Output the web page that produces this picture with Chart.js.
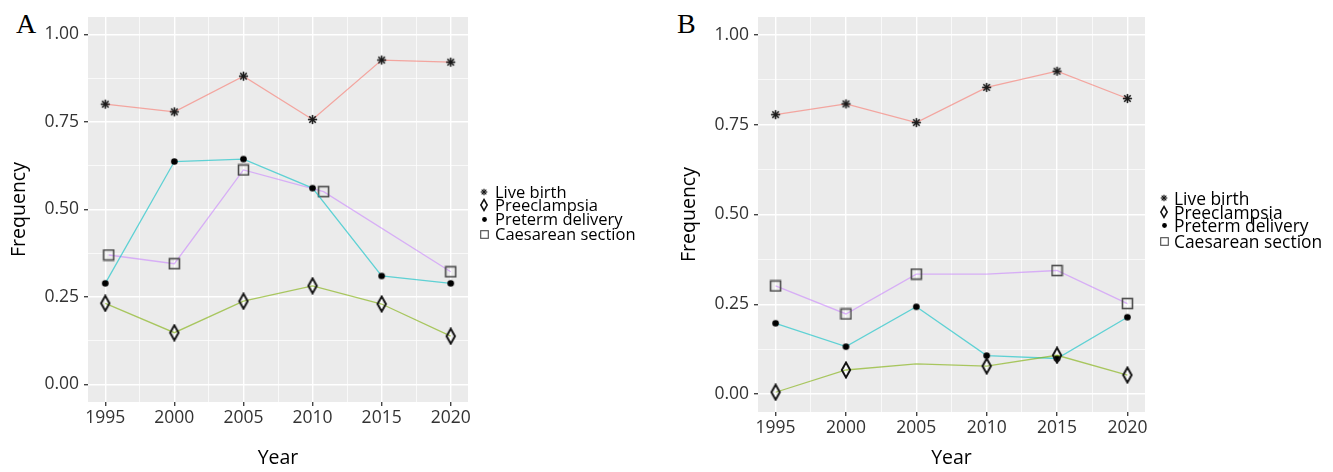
<!DOCTYPE html>
<html>
<head>
<meta charset="utf-8">
<script src="https://cdn.jsdelivr.net/npm/chart.js@4.4.1/dist/chart.umd.min.js"></script>
<style>
  body { margin: 0; background: #fff; width: 1333px; height: 472px; overflow: hidden; position: relative; font-family: "Open Sans", sans-serif; }
  .panel { position: absolute; top: 0; height: 472px; }
  .letter { position: absolute; font-family: "Liberation Serif", "DejaVu Serif", serif; font-size: 28px; color: #000; line-height: 1; }
  .leg-row { position: absolute; height: 16px; line-height: 16px; color: #000; white-space: nowrap; }
  .leg-row canvas { position: absolute; top: 50%; }
</style>
</head>
<body>
<div class="letter" style="left:16px;top:10px">A</div>
<div class="letter" style="left:677px;top:10px">B</div>
<div class="panel" style="left:0;width:494px"><canvas id="chartA"></canvas></div>
<div class="panel" style="left:670px;width:501px"><canvas id="chartB"></canvas></div>
<div id="legendA"></div>
<div id="legendB"></div>
<script>
var years = [1995, 2000, 2005, 2010, 2015, 2020];
var seriesNames = ['Live birth', 'Preeclampsia', 'Preterm delivery', 'Caesarean section'];
var lineColors = ['rgba(248,118,109,0.6)', 'rgba(124,174,0,0.6)', 'rgba(0,191,196,0.6)', 'rgba(199,124,255,0.55)'];

// panel A
var liveBirthA = [0.801, 0.779, 0.881, 0.757, 0.927, 0.921];
var preeclampsiaA = [0.232, 0.148, 0.238, 0.282, 0.230, 0.138];
var pretermA = [0.289, 0.637, 0.644, 0.561, 0.310, 0.289];
var caesareanA = [0.370, 0.345, 0.613, 0.551, null, 0.322];
var caesareanYearsA = [1995.25, 2000, 2005, 2010.8, 2015, 2020]; // points are dodged a bit

// panel B
var liveBirthB = [0.778, 0.808, 0.756, 0.854, 0.899, 0.823];
var preeclampsiaB = [0.005, 0.067, 0.084, 0.078, 0.108, 0.053];
var pretermB = [0.197, 0.132, 0.243, 0.107, 0.099, 0.214];
var caesareanB = [0.301, 0.223, 0.334, 0.334, 0.344, 0.252];
var preeclampsiaMarkB = [1, 1, 0, 1, 1, 1];
var caesareanMarkB = [1, 1, 1, 0, 1, 1];

// marker images (ggplot shapes 8, 5, 16, 0)
function asterisk(r, w) {
  var s = Math.ceil(2 * r + 3), c = document.createElement('canvas');
  c.width = c.height = s;
  var g = c.getContext('2d');
  g.strokeStyle = '#1a1a1a'; g.lineWidth = w;
  for (var k = 0; k < 4; k++) {
    var a = k * Math.PI / 4;
    g.beginPath();
    g.moveTo(s / 2 + r * Math.cos(a), s / 2 + r * Math.sin(a));
    g.lineTo(s / 2 - r * Math.cos(a), s / 2 - r * Math.sin(a));
    g.stroke();
  }
  return c;
}
function diamond(hw, hh, w) {
  var c = document.createElement('canvas');
  c.width = Math.ceil(2 * hw + 3); c.height = Math.ceil(2 * hh + 3);
  var g = c.getContext('2d'), cx = c.width / 2, cy = c.height / 2;
  g.strokeStyle = '#111'; g.lineWidth = w;
  g.beginPath();
  g.moveTo(cx, cy - hh); g.lineTo(cx + hw, cy); g.lineTo(cx, cy + hh); g.lineTo(cx - hw, cy);
  g.closePath(); g.stroke();
  return c;
}
function dot(r) {
  var s = Math.ceil(2 * r + 2), c = document.createElement('canvas');
  c.width = c.height = s;
  var g = c.getContext('2d');
  g.fillStyle = '#000';
  g.beginPath(); g.arc(s / 2, s / 2, r, 0, Math.PI * 2); g.fill();
  return c;
}
function square(h, w) {
  var s = Math.ceil(2 * h + 3), c = document.createElement('canvas');
  c.width = c.height = s;
  var g = c.getContext('2d');
  g.strokeStyle = '#4a4a4a'; g.lineWidth = w;
  g.strokeRect(s / 2 - h, s / 2 - h, 2 * h, 2 * h);
  return c;
}
var markers = [asterisk(4.6, 1.6), diamond(4.2, 7.5, 1.9), dot(3.3), square(5, 1.6)];
var legendMarks = [asterisk(3.3, 1.2), diamond(3.2, 5.5, 1.5), dot(2.4), square(3.8, 1.1)];

var panelBg = {
  id: 'panelBg',
  beforeDraw: function (chart) {
    var a = chart.chartArea, g = chart.ctx;
    g.save();
    g.fillStyle = '#EBEBEB';
    g.fillRect(a.left, a.top, a.right - a.left, a.bottom - a.top);
    g.restore();
  }
};

function isMajorX(v) { return Math.abs(v % 5) < 1e-6; }
function isMajorY(v) { return Math.abs(v * 4 - Math.round(v * 4)) < 1e-6; }

function makeChart(id, series, xs, marks, xHeight) {
  var datasets = series.map(function (vals, i) {
    var xv = xs[i] || years;
    var mk = marks[i];
    return {
      label: seriesNames[i],
      data: vals.map(function (v, j) { return { x: xv[j], y: v }; }),
      borderColor: lineColors[i],
      borderWidth: 1.3,
      pointStyle: mk ? mk.map(function (m) { return m ? markers[i] : false; }) : markers[i],
      pointRadius: 4,
      spanGaps: true,
      tension: 0
    };
  });
  return new Chart(document.getElementById(id), {
    type: 'line',
    data: { datasets: datasets },
    plugins: [panelBg],
    options: {
      responsive: true,
      maintainAspectRatio: false,
      animation: false,
      layout: { padding: { left: 8, top: 17, right: 26, bottom: 0 } },
      plugins: { legend: { display: false }, tooltip: { enabled: false } },
      scales: {
        x: {
          type: 'linear', min: 1993.75, max: 2021.25,
          afterBuildTicks: function (s) {
            var t = [];
            for (var v = 1995; v <= 2020; v += 2.5) t.push({ value: v });
            s.ticks = t;
          },
          afterFit: function (s) { s.height = xHeight; },
          border: { display: false },
          grid: {
            color: '#FFFFFF',
            lineWidth: function (c) { return c.tick && isMajorX(c.tick.value) ? 1.4 : 0.7; },
            tickColor: function (c) { return c.tick && isMajorX(c.tick.value) ? '#444' : 'rgba(0,0,0,0)'; },
            tickLength: 4
          },
          ticks: {
            maxRotation: 0, autoSkip: false, padding: 2, color: '#333',
            font: { family: 'Open Sans', size: 17.5 },
            callback: function (v) { return isMajorX(v) ? String(v) : ''; }
          },
          title: { display: true, text: 'Year', color: '#000', font: { family: 'Open Sans', size: 19.5 }, padding: { top: 4, bottom: 2 } }
        },
        y: {
          min: -0.05, max: 1.05,
          afterBuildTicks: function (s) {
            var t = [];
            for (var k = 0; k <= 8; k++) t.push({ value: k * 0.125 });
            s.ticks = t;
          },
          afterFit: function (s) { s.width = 80; },
          border: { display: false },
          grid: {
            color: '#FFFFFF',
            lineWidth: function (c) { return c.tick && isMajorY(c.tick.value) ? 1.4 : 0.7; },
            tickColor: function (c) { return c.tick && isMajorY(c.tick.value) ? '#444' : 'rgba(0,0,0,0)'; },
            tickLength: 4
          },
          ticks: {
            padding: 5, color: '#333',
            font: { family: 'Open Sans', size: 17.5 },
            callback: function (v) { return isMajorY(v) ? v.toFixed(2) : ''; }
          },
          title: { display: true, text: 'Frequency', color: '#000', font: { family: 'Open Sans', size: 19.5 }, padding: { top: 0, bottom: 0 } }
        }
      }
    }
  });
}

makeChart('chartA', [liveBirthA, preeclampsiaA, pretermA, caesareanA],
  [null, null, null, caesareanYearsA], [null, null, null, null], 70);
makeChart('chartB', [liveBirthB, preeclampsiaB, pretermB, caesareanB],
  [null, null, null, null], [null, preeclampsiaMarkB, null, caesareanMarkB], 60);

function buildLegend(id, symX, textX, rowsY, size) {
  var box = document.getElementById(id);
  seriesNames.forEach(function (name, i) {
    var row = document.createElement('div');
    row.className = 'leg-row';
    row.style.left = (symX - 6) + 'px';
    row.style.top = (rowsY[i] - 8) + 'px';
    row.style.fontSize = size + 'px';
    row.style.paddingLeft = (textX - symX + 6) + 'px';
    var m = legendMarks[i];
    var c = document.createElement('canvas');
    c.width = m.width; c.height = m.height;
    c.getContext('2d').drawImage(m, 0, 0);
    c.style.left = (6 - m.width / 2) + 'px';
    c.style.marginTop = (-m.height / 2) + 'px';
    row.appendChild(c);
    row.appendChild(document.createTextNode(name));
    box.appendChild(row);
  });
}
buildLegend('legendA', 484, 495, [192, 205, 219, 234], 16.5);
buildLegend('legendB', 1164, 1174, [198, 212, 225, 241], 17.4);
</script>
</body>
</html>
